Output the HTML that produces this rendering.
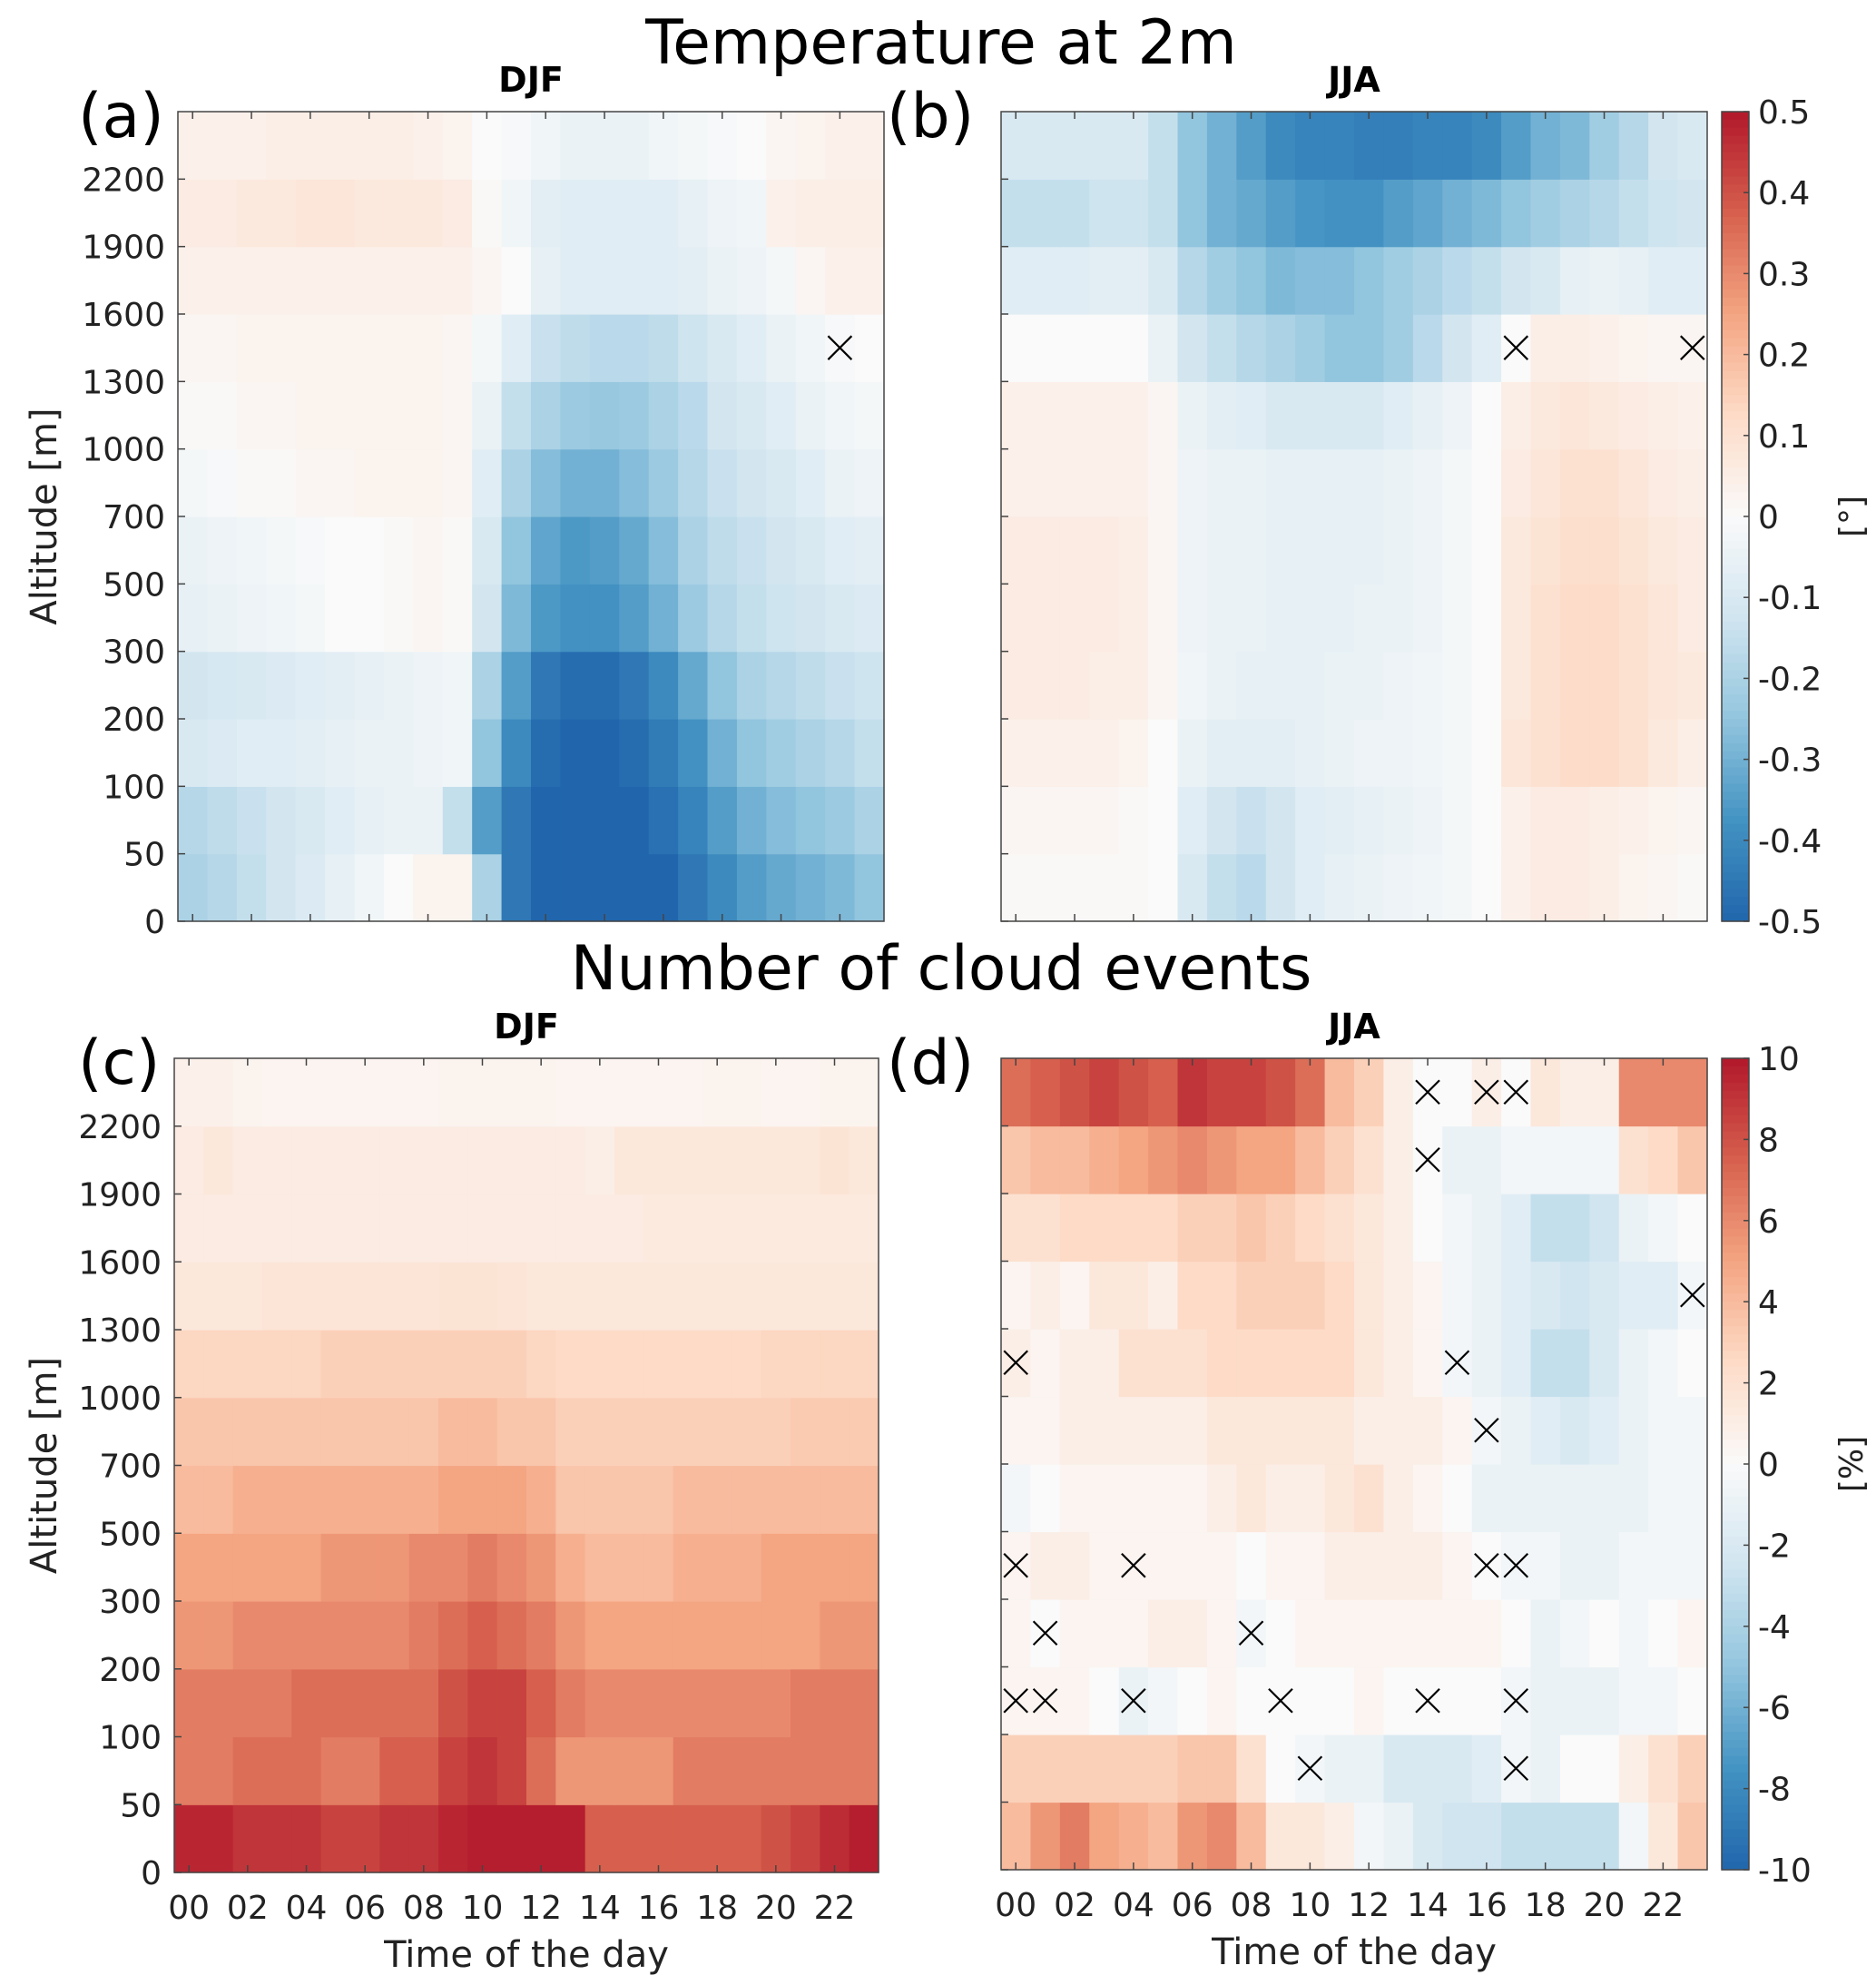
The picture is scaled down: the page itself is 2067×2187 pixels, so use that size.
<!DOCTYPE html>
<html><head><meta charset="utf-8"><style>
html,body{margin:0;padding:0;background:#fff}
svg{display:block;font-family:"DejaVu Sans","Liberation Sans",sans-serif}
</style></head><body>
<svg id="fig" width="2067" height="2187" viewBox="0 0 2067 2187" xmlns="http://www.w3.org/2000/svg">
<text x="1037" y="70" font-size="68" text-anchor="middle">Temperature at 2m</text>
<text x="1037" y="1090" font-size="68" text-anchor="middle">Number of cloud events</text>
</svg>
<script>
const hours = ["00","01","02","03","04","05","06","07","08","09","10","11","12","13","14","15","16","17","18","19","20","21","22","23"];
const altLabels = ["0","50","100","200","300","500","700","1000","1300","1600","1900","2200"];
const hourTickLabels = ["00","02","04","06","08","10","12","14","16","18","20","22"];
const tempCbTicks = ["0.5","0.4","0.3","0.2","0.1","0","-0.1","-0.2","-0.3","-0.4","-0.5"];
const cloudCbTicks = ["10","8","6","4","2","0","-2","-4","-6","-8","-10"];
// rows listed from bottom (0-50 m) to top (>2200 m)
const tempDJF = [
[-.2,-.18,-.15,-.12,-.09,-.06,-.03,0,.03,.03,-.2,-.45,-.5,-.5,-.5,-.5,-.5,-.45,-.4,-.35,-.32,-.3,-.28,-.25],
[-.18,-.16,-.14,-.12,-.1,-.08,-.06,-.05,-.05,-.15,-.35,-.45,-.5,-.5,-.5,-.5,-.47,-.42,-.35,-.3,-.27,-.25,-.23,-.2],
[-.1,-.09,-.08,-.08,-.07,-.06,-.05,-.05,-.04,-.03,-.25,-.4,-.48,-.5,-.5,-.48,-.44,-.38,-.3,-.25,-.22,-.2,-.18,-.15],
[-.12,-.11,-.1,-.09,-.08,-.07,-.06,-.05,-.04,-.03,-.2,-.35,-.45,-.48,-.48,-.45,-.4,-.32,-.25,-.2,-.18,-.16,-.14,-.13],
[-.06,-.05,-.04,-.03,-.02,0,0,.01,.02,.01,-.12,-.28,-.36,-.38,-.38,-.35,-.3,-.23,-.18,-.15,-.13,-.12,-.1,-.09],
[-.05,-.04,-.03,-.02,-.01,0,0,.01,.02,.01,-.1,-.25,-.33,-.36,-.35,-.32,-.27,-.2,-.16,-.14,-.12,-.1,-.08,-.07],
[-.02,-.01,.01,.01,.02,.02,.03,.03,.03,.02,-.08,-.2,-.27,-.3,-.3,-.27,-.23,-.18,-.14,-.12,-.1,-.08,-.05,-.04],
[.01,.01,.02,.02,.03,.03,.03,.03,.03,.02,-.05,-.15,-.2,-.23,-.24,-.23,-.2,-.17,-.12,-.1,-.08,-.05,-.03,-.02],
[.02,.02,.03,.03,.03,.03,.03,.03,.03,.02,-.02,-.08,-.14,-.16,-.17,-.17,-.16,-.13,-.1,-.08,-.05,-.03,-.01,0],
[.04,.04,.04,.04,.04,.04,.04,.04,.04,.04,.02,0,-.06,-.08,-.08,-.08,-.08,-.07,-.05,-.04,-.02,.02,.04,.04],
[.06,.06,.07,.07,.08,.08,.07,.07,.07,.06,.01,-.03,-.07,-.08,-.08,-.08,-.08,-.06,-.04,-.03,.04,.05,.05,.05],
[.04,.04,.04,.05,.05,.05,.05,.05,.04,.03,0,-.01,-.03,-.05,-.05,-.05,-.03,-.02,-.01,0,.02,.03,.04,.04]];
const tempJJA = [
[.01,.01,.01,.01,.01,0,-.1,-.15,-.17,-.12,-.08,-.06,-.05,-.04,-.03,-.02,0,.04,.06,.06,.05,.03,.02,.01],
[.02,.02,.02,.02,.01,0,-.08,-.12,-.14,-.12,-.08,-.07,-.06,-.05,-.04,-.02,0,.04,.06,.06,.05,.04,.03,.02],
[.04,.04,.04,.04,.03,0,-.05,-.07,-.07,-.07,-.06,-.05,-.04,-.04,-.03,-.02,0,.08,.1,.12,.12,.1,.07,.05],
[.06,.06,.06,.05,.05,.02,-.03,-.05,-.06,-.06,-.06,-.05,-.05,-.04,-.03,-.02,0,.07,.1,.12,.12,.1,.08,.07],
[.06,.06,.06,.06,.05,.02,-.04,-.05,-.05,-.06,-.06,-.06,-.05,-.05,-.04,-.02,0,.07,.1,.12,.12,.1,.08,.06],
[.06,.06,.06,.06,.05,.02,-.04,-.05,-.05,-.06,-.06,-.06,-.06,-.05,-.04,-.02,0,.07,.09,.11,.11,.09,.07,.06],
[.04,.04,.04,.04,.04,.02,-.04,-.05,-.05,-.06,-.06,-.06,-.06,-.05,-.04,-.02,0,.06,.08,.1,.1,.08,.06,.05],
[.04,.04,.04,.04,.04,.02,-.05,-.07,-.08,-.1,-.1,-.1,-.1,-.08,-.06,-.04,0,.05,.07,.08,.07,.06,.05,.04],
[0,0,0,0,0,-.05,-.12,-.15,-.18,-.2,-.22,-.25,-.25,-.22,-.17,-.12,-.08,0,.05,.05,.04,.03,.02,.02],
[-.08,-.08,-.08,-.07,-.07,-.1,-.18,-.22,-.25,-.28,-.27,-.27,-.25,-.22,-.2,-.17,-.15,-.12,-.1,-.06,-.05,-.06,-.08,-.08],
[-.15,-.15,-.15,-.13,-.13,-.15,-.25,-.3,-.32,-.35,-.37,-.38,-.38,-.35,-.33,-.3,-.28,-.25,-.22,-.2,-.18,-.15,-.13,-.12],
[-.1,-.1,-.1,-.1,-.1,-.15,-.25,-.3,-.35,-.4,-.42,-.42,-.43,-.43,-.42,-.42,-.4,-.35,-.3,-.28,-.22,-.18,-.12,-.1]];
const cloudDJF = [
[9.5,9.5,9,9,9,8.5,8.5,9,9,9.5,9.8,9.8,9.8,9.8,7.5,7.5,7.5,7.5,7.5,7.5,8,8.5,9.3,9.8],
[6.5,6.5,7,7,7,6.5,6.5,7.5,7.5,8.5,9,8.5,7,5.5,5.5,5.5,5.5,6.5,6.5,6.5,6.5,6.5,6.5,6.5],
[6.5,6.5,6.5,6.5,7,7,7,7,7,8,8.5,8.5,7.5,6.5,6,6,6,6,6,6,6,6.5,6.5,6.5],
[5.5,5.5,6,6,6,6,6,6,6.5,7,7.5,7,6.5,5.5,5,5,5,5,5,5,5,5,5.5,5.5],
[5,5,5,5,5,5.5,5.5,5.5,6,6,6.5,6,5.5,4.5,4,4,4,4.5,4.5,4.5,5,5,5,5],
[4,4,4.5,4.5,4.5,4.5,4.5,4.5,4.5,5,5,5,4.5,3.5,3.5,3.5,3.5,4,4,4,4,4,4,4],
[3.5,3.5,3.5,3.5,3.5,3.5,3.5,3.5,3.5,4,4,3.5,3.5,3,3,3,3,3,3,3,3,3.3,3.3,3.3],
[2.7,2.7,2.7,2.7,2.7,3,3,3,3,3,3,3,2.7,2.5,2.5,2.5,2.5,2.5,2.5,2.5,2.7,2.7,2.7,2.7],
[1.5,1.5,1.5,1.7,1.7,1.7,1.7,1.7,1.7,1.8,1.8,1.7,1.5,1.5,1.5,1.5,1.5,1.5,1.5,1.5,1.5,1.5,1.5,1.5],
[1.2,1.2,1.2,1.2,1.2,1.2,1.2,1.2,1.2,1.2,1.2,1.2,1.2,1.2,1.2,1.2,1.3,1.3,1.3,1.3,1.3,1.3,1.3,1.3],
[1.2,1.5,1.2,1.2,1.2,1.2,1.2,1.2,1.2,1.2,1.2,1.2,1.2,1.2,1,1.5,1.5,1.5,1.5,1.5,1.5,1.5,1.8,1.5],
[.8,.8,.6,.5,.5,.5,.5,.5,.5,.6,.6,.6,.6,.5,.5,.5,.5,.5,.6,.6,.5,.5,.6,.6]];
const cloudJJA = [
[4,5.5,6.5,5,4.5,4,5.5,6,4,1.5,1.5,1,-.5,-1,-2,-2.5,-2.5,-3,-3,-3,-3,-.5,1.5,3.5],
[3,3,3,3,3,3,3.5,3.5,2,0,-.5,-1,-1,-2,-2,-2,-1.5,-.5,-1,0,0,1,2,3],
[.5,.5,.5,0,-1,-.5,0,.5,0,0,0,0,.5,0,0,0,0,-.5,-1,-1,-1,-.5,-.5,0],
[.5,0,.5,.5,.5,1,1,.5,-.5,0,.5,.5,.5,.5,.5,.5,.5,0,-1,-.5,0,-.5,0,.5],
[.5,1,1,.5,.5,.5,.5,.5,0,.5,.5,1,1,1,1,.5,0,-.5,-.5,-1,-1,-.5,-.5,-.5],
[-.5,0,.5,.5,.5,.5,.5,1,1.5,1,1,1.5,2,1,.5,0,-1,-1,-1,-1,-1,-1,-.5,-.5],
[.5,.5,1,1,1,1,1,1.5,1.5,1.5,1.5,1.5,1,1,1,.5,-.5,-1,-1.5,-2,-1.5,-1,-.5,-.5],
[1,.5,1,1,2,2,2,2.5,2.5,2.5,2.5,2.5,1.5,1,.5,-.5,-1,-1.5,-3,-3,-2,-1,-.5,0],
[.5,1,.5,1.5,1.5,1,2.5,2.5,3,3,3,2.5,1.5,1,.5,-.5,-1,-1.5,-2,-2.5,-2,-1.5,-1.5,-.5],
[2,2,2.5,2.5,2.5,2.5,3,3,3.5,3,2.5,2,1.5,1,0,-.5,-1,-1.5,-3,-3,-2.5,-1,-.5,0],
[3.5,4,4,4.5,5,5.5,6,5.5,5,5,4,3,2,1,0,-1,-1,-.5,-.5,-.5,-.5,2,2.5,3.5],
[7,7.5,8,8.5,8,7.5,9,8.5,8.5,8,7,4,3,1,0,0,1,0,1.5,1,1,6,6,6]];
// significance markers: [hourIndex,rowIndexFromBottom]
const sigA = [[22,8]];
const sigB = [[17,8],[23,8]];
const sigC = [];
const sigD = [[14,11],[16,11],[17,11],[14,10],[23,8],[0,7],[15,7],[16,6],[0,4],[4,4],[16,4],[17,4],[1,3],[8,3],[0,2],[1,2],[4,2],[9,2],[14,2],[17,2],[10,1],[17,1]];

const NS="http://www.w3.org/2000/svg";
const svg=document.getElementById('fig');
const stops=[[-1,[33,102,172]],[-0.75,[67,147,195]],[-0.5,[146,197,222]],[-0.25,[209,229,240]],[0,[250,250,250]],[0.25,[253,219,199]],[0.5,[244,165,130]],[0.75,[214,96,77]],[1,[178,24,43]]];
function cmap(t){t=Math.max(-1,Math.min(1,t));for(let i=0;i<stops.length-1;i++){const a=stops[i],b=stops[i+1];if(t<=b[0]){const f=(t-a[0])/(b[0]-a[0]);const c=a[1].map((v,k)=>Math.round(v+(b[1][k]-v)*f));return `rgb(${c})`;}}return 'rgb(178,24,43)';}
function mk(tag,attrs,parent){const e=document.createElementNS(NS,tag);for(const k in attrs)e.setAttribute(k,attrs[k]);(parent||svg).appendChild(e);return e;}
function txt(s,attrs){const e=mk('text',attrs);e.textContent=s;return e;}

function panel(id,x0,x1,y0,y1,data,vmax,sig,title,letter,showY,showX){
  const g=mk('g',{});
  
  
  const nr=data.length,nc=hours.length;
  const xs=i=>x0+(x1-x0)*i/nc, ys=j=>y1-(y1-y0)*j/nr;
  data.forEach((row,j)=>row.forEach((v,i)=>{
    const r=mk('rect',{x:xs(i),y:ys(j+1),width:xs(i+1)-xs(i)+0.6,height:ys(j)-ys(j+1)+0.6,fill:cmap(v/vmax)},g);
    
    
  }));
  sig.forEach(([i,j])=>{
    const cx=(xs(i)+xs(i+1))/2, cy=(ys(j)+ys(j+1))/2, d=13;
    const p=mk('path',{d:`M${cx-d} ${cy-d}L${cx+d} ${cy+d}M${cx+d} ${cy-d}L${cx-d} ${cy+d}`,stroke:'#000','stroke-width':2.2,fill:'none'},g);
    
    
  });
  const fr=mk('rect',{x:x0,y:y0,width:x1-x0,height:y1-y0,fill:'none',stroke:'#444','stroke-width':1.5},g);
  
  
  for(let j=0;j<nr;j++){
    mk('line',{x1:x0,x2:x0+8,y1:ys(j),y2:ys(j),stroke:'#444','stroke-width':1.5},g);
    if(showY){const t=txt(altLabels[j],{x:x0-14,y:ys(j)+13,'font-size':36,'text-anchor':'end',fill:'#222'});
      
      }
  }
  for(let i=0;i<nc;i+=2){
    const cx=(xs(i)+xs(i+1))/2;
    mk('line',{x1:cx,x2:cx,y1:y1,y2:y1-8,stroke:'#444','stroke-width':1.5},g);
    mk('line',{x1:cx,x2:cx,y1:y0,y2:y0+8,stroke:'#444','stroke-width':1.5},g);
    if(showX){const t=txt(hours[i],{x:cx,y:y1+51,'font-size':36,'text-anchor':'middle',fill:'#222'});
      
      }
  }
  const tt=txt(title,{x:(x0+x1)/2,y:y0-22,'font-size':38,'font-weight':'bold','text-anchor':'middle'});
  
  
  const lt=txt(letter,{x:showY?86:977,y:y0+28,'font-size':68});
  
  
  if(showY){const a=txt('Altitude [m]',{x:0,y:0,'font-size':40,'text-anchor':'middle',transform:`translate(62,${(y0+y1)/2}) rotate(-90)`,fill:'#222'});
    
    }
  if(showX){const a=txt('Time of the day',{x:(x0+x1)/2,y:y1+104,'font-size':40,'text-anchor':'middle',fill:'#222'});
    
    }
}
function colorbar(id,y0,y1,ticks,unit){
  const x0=1897,x1=1927,n=100;
  for(let k=0;k<n;k++){const t=1-(k+0.5)/n*2;mk('rect',{x:x0,y:y0+(y1-y0)*k/n,width:x1-x0,height:(y1-y0)/n+0.6,fill:cmap(t)});}
  const f=mk('rect',{x:x0,y:y0,width:x1-x0,height:y1-y0,fill:'none',stroke:'#444','stroke-width':1.5});
  
  
  ticks.forEach((s,k)=>{const y=y0+(y1-y0)*k/(ticks.length-1);
    mk('line',{x1:x1-6,x2:x1,y1:y,y2:y,stroke:'#444','stroke-width':1.5});
    const t=txt(s,{x:1937,y:y+13,'font-size':36,fill:'#222'});
    
    });
  const u=txt(unit,{x:0,y:0,'font-size':36,'text-anchor':'middle',transform:`translate(2052,${(y0+y1)/2}) rotate(-90)`,fill:'#222'});
  
  
}
panel('a',196,974,123,1015,tempDJF,0.5,sigA,'DJF','(a)',true,false);
panel('b',1103,1881,123,1015,tempJJA,0.5,sigB,'JJA','(b)',false,false);
panel('c',192,968,1166,2063,cloudDJF,10,sigC,'DJF','(c)',true,true);
panel('d',1103,1881,1166,2060,cloudJJA,10,sigD,'JJA','(d)',false,true);
colorbar('temp',123,1015,tempCbTicks,'[°]');
colorbar('cloud',1166,2060,cloudCbTicks,'[%]');
</script>
</body></html>
